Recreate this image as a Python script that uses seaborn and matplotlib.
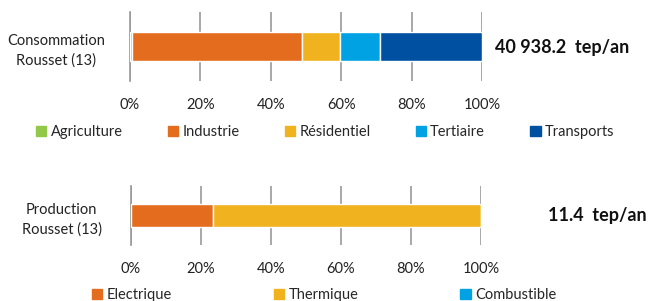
import numpy as np
import seaborn as sns
import matplotlib.pyplot as plt
from matplotlib.patches import Patch

# data (shares in %)
conso_label = "Consommation\nRousset (13)"
conso_cats = ["Agriculture", "Industrie", "Résidentiel", "Tertiaire", "Transports"]
conso_vals = [0.7, 48.3, 10.6, 11.4, 29.0]
conso_total = "40 938.2  tep/an"

prod_label = "Production\nRousset (13)"
prod_cats = ["Electrique", "Thermique", "Combustible"]
prod_vals = [23.3, 76.7, 0.0]
prod_total = "11.4  tep/an"

xticks = [0, 20, 40, 60, 80, 100]
xticklabels = ["0%", "20%", "40%", "60%", "80%", "100%"]

conso_colors = ["#92C84A", "#E36C1F", "#F0B21E", "#00A2E3", "#0050A2"]
prod_colors = ["#E36C1F", "#F0B21E", "#00A2E3"]

sns.set_style("white")
plt.rcParams['font.family'] = ['Lato', 'DejaVu Sans']

fig = plt.figure(figsize=(6.57, 3.01), dpi=100)
W, H = 657, 301
FS = 10.5


def px_axes(x0, x1, y0, y1):
    return fig.add_axes([x0 / W, 1 - y1 / H, (x1 - x0) / W, (y1 - y0) / H])


def stacked(ax, label, vals, colors, height, pad):
    left = 0
    for v, c in zip(vals, colors):
        ax.barh([0], [v], left=left, height=height, color=c, zorder=3)
        left += v
    ax.set_xlim(0, 100)
    ax.set_ylim(-0.5, 0.5)
    ax.set_xticks(xticks)
    ax.set_xticklabels(xticklabels, fontsize=FS, color="#222222")
    ax.set_yticks([0])
    ax.set_yticklabels([label], fontsize=FS, color="#222222", ha="center",
                       linespacing=1.45)
    ax.tick_params(axis="y", length=0, pad=pad)
    ax.set_yticks([-0.5, 0.5], minor=True)
    ax.tick_params(axis="y", which="minor", length=4, color="#999999", width=1.2)
    ax.tick_params(axis="x", length=6, color="#999999", width=1.2, pad=6)
    ax.grid(axis="x", color="#999999", linewidth=1.2, zorder=0)
    for s in ["top", "right", "bottom"]:
        ax.spines[s].set_visible(False)
    ax.spines["left"].set_color("#999999")
    ax.spines["left"].set_linewidth(1.2)


ax1 = px_axes(130, 482, 12, 81)
stacked(ax1, conso_label, conso_vals, conso_colors, 0.42, 53)
fig.text(495 / W, 1 - 47 / H, conso_total, fontsize=13, fontweight="bold",
         va="center", ha="left", color="#111111")
h1 = [Patch(color=c) for c in conso_colors]
fig.legend(h1, conso_cats, loc="center left", bbox_to_anchor=(36 / W, 1 - 132 / H),
           ncol=5, frameon=False, fontsize=FS, handlelength=0.7, handleheight=0.7,
           handletextpad=0.3, columnspacing=3.1, borderaxespad=0, borderpad=0)

ax2 = px_axes(131, 481, 186, 245)
stacked(ax2, prod_label, prod_vals, prod_colors, 0.39, 50)
fig.text(548 / W, 1 - 216 / H, prod_total, fontsize=13, fontweight="bold",
         va="center", ha="left", color="#111111")
h2 = [Patch(color=c) for c in prod_colors]
fig.legend(h2, prod_cats, loc="center left", bbox_to_anchor=(92 / W, 1 - 295 / H),
           ncol=3, frameon=False, fontsize=FS, handlelength=0.7, handleheight=0.7,
           handletextpad=0.3, columnspacing=7.0, borderaxespad=0, borderpad=0)

fig.savefig("out.png", dpi=100)
